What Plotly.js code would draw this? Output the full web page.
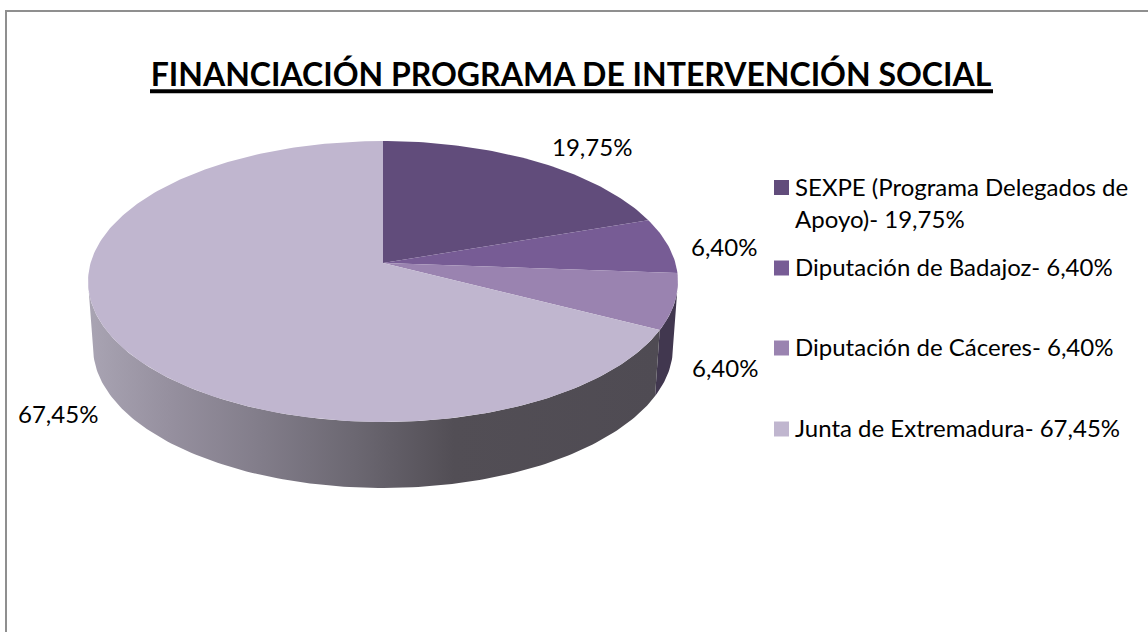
<!DOCTYPE html>
<html><head><meta charset="utf-8">
<script src="https://cdn.plot.ly/plotly-3.0.1.min.js"></script>
<style>html,body{margin:0;padding:0;background:#fff}#chart{width:1148px;height:632px}</style>
</head><body><div id="chart"></div>
<script>
const categories = ["SEXPE (Programa Delegados de<br>Apoyo)- 19,75%","Diputación de Badajoz- 6,40%","Diputación de Cáceres- 6,40%","Junta de Extremadura- 67,45%"];
const values = [19.75, 6.40, 6.40, 67.45];
const valueLabels = ["19,75%","6,40%","6,40%","67,45%"];
const colors = ["#614c7b","#775c95","#9a83b0","#c0b6cf"];

const FONT = "Lato, 'Open Sans', sans-serif";
const cx=383, cy=263, R=292.4, S=138, P=0.1317, DEPTH=66, SHRINK=0.983;
const rad = d=>d*Math.PI/180;
function topPt(theta){const u=Math.sin(rad(theta)),v=Math.cos(rad(theta)),w=1+P*v;return [cx+R*u/w, cy-S*v/w];}
function botPt(theta){const p=topPt(theta);return [cx+(p[0]-cx)*SHRINK, p[1]+DEPTH];}
function arc(fn,a,b){const n=Math.max(2,Math.ceil(Math.abs(b-a)));const o=[];for(let i=0;i<=n;i++)o.push(fn(a+(b-a)*i/n));return o;}

const total = values.reduce((a,b)=>a+b,0);
const starts=[];let acc=0;values.forEach(v=>{starts.push(acc/total*360);acc+=v;});
const ends=values.map((v,i)=>starts[i]+v/total*360);

const rightEdge=Math.acos(-P)*180/Math.PI, leftEdge=360-rightEdge;
function wall(a,b){const t=arc(topPt,a,b),u=arc(botPt,b,a),pts=t.concat(u);pts.push(t[0]);return pts;}
const traces=[];
const wall1=wall(rightEdge,ends[2]);
traces.push({type:"scatter",mode:"lines",x:wall1.map(p=>p[0]),y:wall1.map(p=>p[1]),fill:"toself",fillcolor:"#41374f",line:{width:0},showlegend:false,hoverinfo:"skip"});
const wall2=wall(ends[2],leftEdge);
traces.push({type:"scatter",mode:"lines",x:wall2.map(p=>p[0]),y:wall2.map(p=>p[1]),fill:"toself",line:{width:0},showlegend:false,hoverinfo:"skip",
  fillgradient:{type:"horizontal",colorscale:[[0,"#a9a4b3"],[0.14,"#96909f"],[0.3,"#827d8a"],[0.47,"#6b6771"],[0.64,"#524e55"],[1,"#4f4b53"]]}});
values.forEach((v,i)=>{
  const pts=[[cx,cy]].concat(arc(topPt,starts[i],ends[i]));pts.push([cx,cy]);
  traces.push({type:"scatter",mode:"lines",x:pts.map(p=>p[0]),y:pts.map(p=>p[1]),fill:"toself",fillcolor:colors[i],line:{width:0},showlegend:false,name:categories[i],hovertemplate:valueLabels[i]+"<extra></extra>"});
});
categories.forEach((c,i)=>{
  traces.push({type:"scatter",mode:"markers",x:[null],y:[null],name:c,legendgroup:"g"+i,marker:{symbol:"square",size:15,color:colors[i]},hoverinfo:"skip"});
});

const labelPos=[[592,146],[724,246],[725,367],[58,413]];
const annotations=valueLabels.map((t,i)=>({text:t,x:labelPos[i][0],y:labelPos[i][1],xref:"x",yref:"y",showarrow:false,xanchor:"center",yanchor:"middle",font:{family:FONT,size:24,color:"#000"}}));

const layout={
  width:1148,height:632,margin:{l:0,r:0,t:0,b:0},
  paper_bgcolor:"#fff",plot_bgcolor:"#fff",
  xaxis:{range:[0,1148],visible:false,fixedrange:true},
  yaxis:{range:[632,0],visible:false,fixedrange:true},
  title:{text:"<b>FINANCIACIÓN PROGRAMA DE INTERVENCIÓN SOCIAL</b>",x:571/1148,xanchor:"center",y:1-75/632,yanchor:"middle",font:{family:FONT,size:32,color:"#000"}},
  shapes:[
    {type:"path",xref:"paper",yref:"paper",path:"M "+6/1148+" 0 L "+6/1148+" "+(1-11/632)+" L 1 "+(1-11/632),line:{color:"#8f8f8f",width:2},fillcolor:"rgba(0,0,0,0)"},
    {type:"line",xref:"x",yref:"y",x0:150,x1:993,y0:91.3,y1:91.3,line:{color:"#000",width:4}}
  ],
  annotations,
  showlegend:true,
  legend:{x:755/1148,xanchor:"left",y:1-170/632,yanchor:"top",tracegroupgap:48,font:{family:FONT,size:24,color:"#000"},bgcolor:"rgba(0,0,0,0)",itemclick:false,itemdoubleclick:false}
};

// Reference legend rhythm: swatch centres, text start, and line pitch of the wrapped entry.
const legendY=[187.5,268,348,429], swatchX=781.5, textX=795, linePitch=33, textLift=1.5;
function parseT(s){const m=/translate\(\s*(-?[\d.]+)[ ,]+(-?[\d.]+)\s*\)/.exec(s||"");return m?[+m[1],+m[2]]:[0,0];}
Plotly.newPlot("chart",traces,layout,{displayModeBar:false}).then(gd=>{
  gd.querySelectorAll(".legend .groups").forEach((g,i)=>{
    const text=g.querySelector(".legendtext"), lines=text.querySelectorAll("tspan.line");
    if(lines.length>1) lines.forEach((l,k)=>{ if(k>0) l.setAttribute("dy",(linePitch/24)+"em"); });
    const first=lines.length>1?lines[0]:text;
    const tr=first.getBoundingClientRect();
    const t=parseT(g.getAttribute("transform"));
    const dy=legendY[i]-textLift-(tr.top+tr.height/2);
    g.setAttribute("transform","translate("+t[0]+","+(t[1]+dy)+")");
    const dx=textX-text.getBoundingClientRect().left;
    const nx=(+text.getAttribute("x"))+dx;
    text.setAttribute("x",nx);
    lines.forEach(l=>l.setAttribute("x",nx));
    const pt=g.querySelector("path.scatterpts"), pr=pt.getBoundingClientRect(), pp=parseT(pt.getAttribute("transform"));
    pt.setAttribute("transform","translate("+(pp[0]+swatchX-(pr.left+pr.width/2))+","+(pp[1]+legendY[i]-(pr.top+pr.height/2))+")");
  });
});
</script></body></html>
